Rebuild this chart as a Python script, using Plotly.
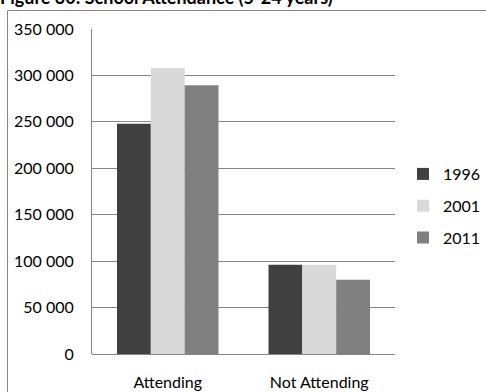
import plotly.graph_objects as go

categories = ["Attending", "Not Attending"]
years = ["1996", "2001", "2011"]
values_1996 = [248000, 96000]
values_2001 = [308000, 96000]
values_2011 = [289500, 80000]
colors = ["#404040", "#d9d9d9", "#808080"]
tick_vals = [0, 50000, 100000, 150000, 200000, 250000, 300000, 350000]
tick_text = ["0", "50 000", "100 000", "150 000", "200 000", "250 000", "300 000", "350 000"]
title_text = "Figure 30: School Attendance (5-24 years)"

W, H = 486, 392
L, R, T, B = 92, 91, 29, 38
pw, ph = W - L - R, H - T - B

def px_x(px):
    return (px - L) / pw

def px_y(py):
    return (H - B - py) / ph

FONT = "Lato"

fig = go.Figure()
for name, vals, col in zip(years, [values_1996, values_2001, values_2011], colors):
    fig.add_trace(go.Bar(x=categories, y=vals, name=name, legendgroup=name,
                         marker=dict(color=col, line=dict(width=0))))

fig.update_layout(
    width=W, height=H,
    margin=dict(l=L, r=R, t=T, b=B, pad=0, autoexpand=False),
    paper_bgcolor="white", plot_bgcolor="white",
    barmode="group", bargap=0.33, bargroupgap=0,
    font=dict(family=FONT, size=16, color="#000000"),
    showlegend=True,
    legend=dict(x=px_x(403), y=px_y(157), xanchor="left", yanchor="top",
                font=dict(family=FONT, size=16), itemwidth=30, tracegroupgap=8,
                traceorder="grouped", bgcolor="rgba(0,0,0,0)"),
    xaxis=dict(showgrid=False, showline=False, ticks="", tickfont=dict(size=16), ticklabelstandoff=17),
    yaxis=dict(range=[0, 350000], tickvals=tick_vals, ticktext=tick_text, showgrid=True,
               gridcolor="#868686", gridwidth=1, showline=True, linecolor="#868686", linewidth=1,
               zeroline=True, zerolinecolor="#868686", zerolinewidth=1, ticks="",
               ticklabelstandoff=14, tickfont=dict(size=16)),
    shapes=[dict(type="rect", xref="paper", yref="paper",
                 x0=px_x(7.5), x1=px_x(495), y0=px_y(400), y1=px_y(10.5),
                 line=dict(color="#868686", width=1), fillcolor="rgba(0,0,0,0)", layer="below")],
    annotations=[dict(text="<b>" + title_text + "</b>", xref="paper", yref="paper",
                      x=px_x(-2), y=px_y(10), xanchor="left", yanchor="bottom", showarrow=False,
                      font=dict(family=FONT, size=18, color="#000000"))],
)

fig.write_html("out.html", config={"displayModeBar": False},
               post_script="document.body.style.margin='0';document.body.style.overflow='hidden';")
